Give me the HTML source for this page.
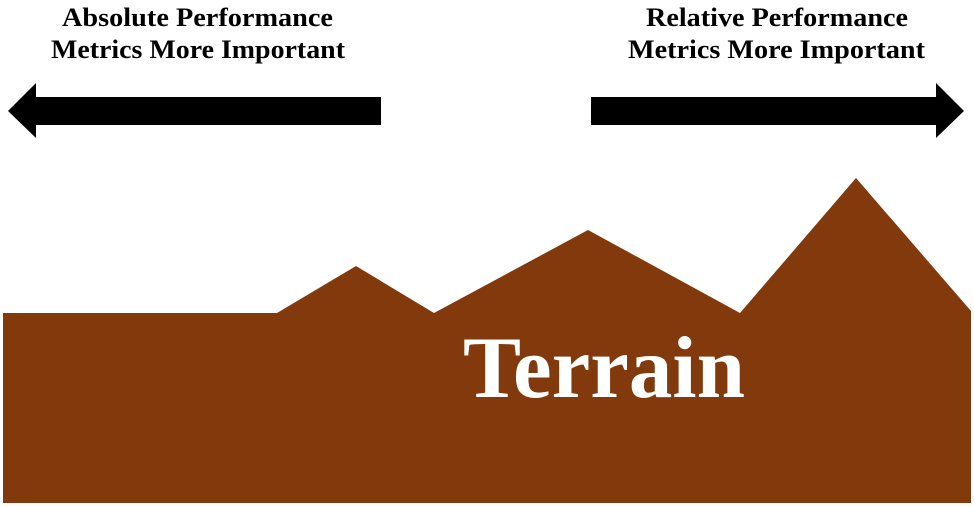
<!DOCTYPE html>
<html><head><meta charset="utf-8"><style>
html,body{margin:0;padding:0;background:#fff;width:974px;height:507px;overflow:hidden}
</style></head><body>
<svg width="974" height="507" viewBox="0 0 974 507" xmlns="http://www.w3.org/2000/svg">
<g font-family="Liberation Serif, serif" font-weight="bold" font-size="26" fill="#000">
<text x="62" y="26" textLength="271" lengthAdjust="spacingAndGlyphs">Absolute Performance</text>
<text x="51" y="58" textLength="294" lengthAdjust="spacingAndGlyphs">Metrics More Important</text>
<text x="646" y="26" textLength="262" lengthAdjust="spacingAndGlyphs">Relative Performance</text>
<text x="628" y="58" textLength="297" lengthAdjust="spacingAndGlyphs">Metrics More Important</text>
</g>
<polygon points="8,111 36,83 36,97 381,97 381,125 36,125 36,138" fill="#000"/>
<polygon points="964,111 936,83 936,97 591,97 591,125 936,125 936,138" fill="#000"/>
<polygon points="3,313 277,313 356,266 434,313 588,230 740,313 856,178 971,311 971,503 3,503" fill="#823A0C"/>
<text x="463" y="397" textLength="282" lengthAdjust="spacingAndGlyphs" font-family="Liberation Serif, serif" font-weight="bold" font-size="88" fill="#fff">Terrain</text>
</svg>
</body></html>
